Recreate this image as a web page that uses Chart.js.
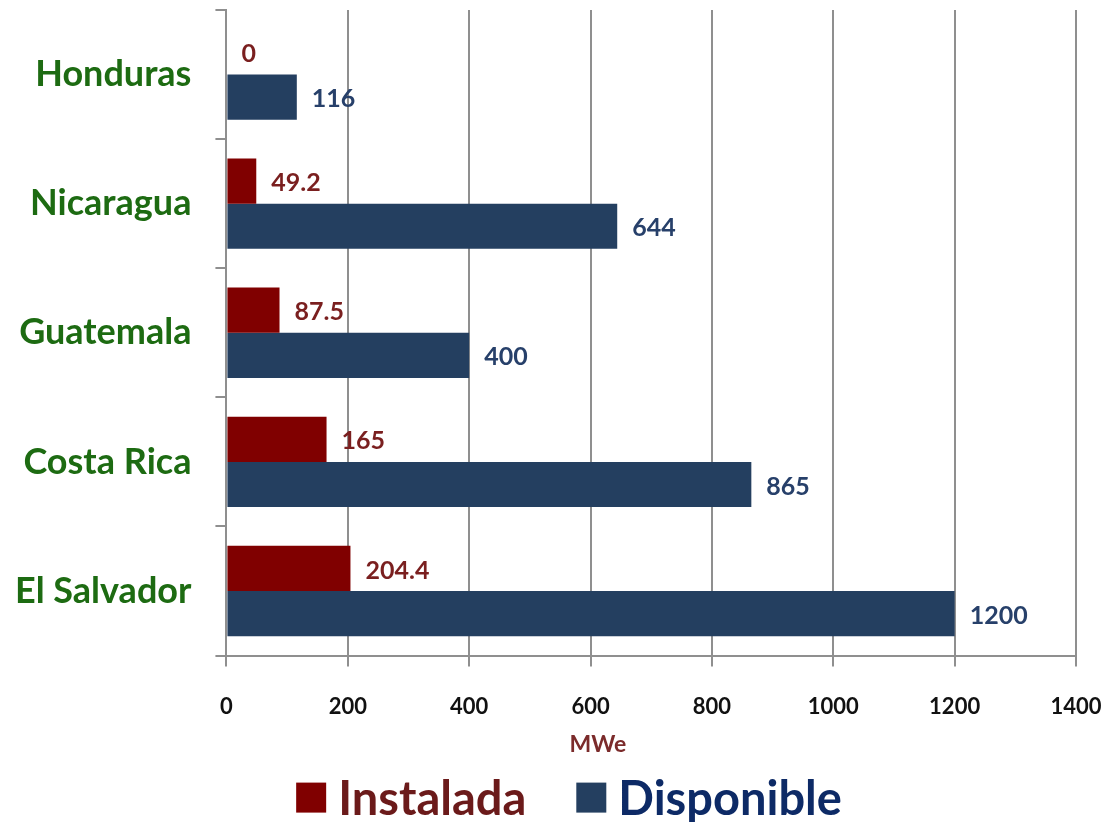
<!DOCTYPE html>
<html>
<head>
<meta charset="utf-8">
<script src="https://cdn.jsdelivr.net/npm/chart.js@4.4.1/dist/chart.umd.min.js"></script>
<style>
  html, body { margin: 0; padding: 0; background: #ffffff; }
  #wrap { width: 1106px; height: 822px; position: relative; }
</style>
</head>
<body>
<div id="wrap"><canvas id="geo-chart"></canvas></div>
<script>
// capacidad geotérmica por país (MWe)
const paises = ['Honduras', 'Nicaragua', 'Guatemala', 'Costa Rica', 'El Salvador'];
const instalada = [0, 49.2, 87.5, 165, 204.4];
const disponible = [116, 644, 400, 865, 1200];
const etiquetasInstalada = ['0', '49.2', '87.5', '165', '204.4'];
const etiquetasDisponible = ['116', '644', '400', '865', '1200'];

const rojo = '#800000';
const azul = '#243f60';
const FONT = 'Lato, "Open Sans", sans-serif';

// etiquetas de valor a la derecha de cada barra
const valorPlugin = {
    id: 'valores',
    afterDatasetsDraw(chart) {
        const ctx = chart.ctx;
        const textos = [etiquetasInstalada, etiquetasDisponible];
        const colores = ['#7a1f1f', '#27406a'];
        ctx.save();
        ctx.font = 'bold 25px ' + FONT;
        ctx.textAlign = 'left';
        ctx.textBaseline = 'middle';
        chart.data.datasets.forEach((ds, i) => {
            const meta = chart.getDatasetMeta(i);
            meta.data.forEach((bar, j) => {
                ctx.fillStyle = colores[i];
                ctx.fillText(textos[i][j], bar.x + 15, bar.y + 2);
            });
        });
        ctx.restore();
    }
};

// título del eje x y leyenda debajo del gráfico
const pieDePlugin = {
    id: 'pieDe',
    afterDraw(chart) {
        const ctx = chart.ctx;
        const area = chart.chartArea;
        ctx.save();
        ctx.textBaseline = 'middle';

        ctx.font = 'bold 23px ' + FONT;
        ctx.fillStyle = '#7b2b2b';
        ctx.textAlign = 'center';
        ctx.fillText('MWe', chart.width / 2 + 45, area.bottom + 89);

        const tonos = ['#6b1a1a', '#0d2a66'];
        const caja = 30, hueco = 12, sep = 50;
        ctx.font = 'bold 47px ' + FONT;
        const items = chart.data.datasets.map((ds, i) => ({
            texto: ds.label,
            color: ds.backgroundColor,
            tono: tonos[i],
            ancho: ctx.measureText(ds.label).width
        }));
        let total = items.reduce((s, it) => s + caja + hueco + it.ancho, 0) + sep * (items.length - 1);
        let x = chart.width / 2 + 16 - total / 2;
        const y = area.bottom + 142;
        ctx.textAlign = 'left';
        items.forEach((it) => {
            ctx.fillStyle = it.color;
            ctx.fillRect(x, y - caja / 2, caja, caja);
            ctx.fillStyle = it.tono;
            ctx.fillText(it.texto, x + caja + hueco, y + 2);
            x += caja + hueco + it.ancho + sep;
        });
        ctx.restore();
    }
};

const ctx = document.getElementById('geo-chart').getContext('2d');
const chart = new Chart(ctx, {
    type: 'bar',
    data: {
        labels: paises,
        datasets: [
            { label: 'Instalada', data: instalada, backgroundColor: rojo, borderWidth: 0 },
            { label: 'Disponible', data: disponible, backgroundColor: azul, borderWidth: 0 }
        ]
    },
    options: {
        indexAxis: 'y',
        responsive: true,
        maintainAspectRatio: false,
        animation: false,
        datasets: {
            bar: { categoryPercentage: 0.7, barPercentage: 1.0 }
        },
        layout: { padding: { top: 10, right: 0, left: -9, bottom: 75 } },
        scales: {
            x: {
                min: 0,
                max: 1400,
                ticks: {
                    stepSize: 200,
                    color: '#111111',
                    padding: 27,
                    font: { family: FONT, size: 22, weight: 'bold' },
                    callback: (v) => String(v)
                },
                grid: { color: '#8f8f8f', lineWidth: 2, tickLength: 11, drawTicks: true },
                border: { color: '#8f8f8f', width: 2 },
                afterFit(scale) {
                    scale.paddingRight = 30;
                    scale.paddingLeft = 0;
                }
            },
            y: {
                ticks: {
                    color: '#1d6b12',
                    padding: 24,
                    font: { family: FONT, size: 36, weight: 'bold' }
                },
                grid: { offset: true, drawOnChartArea: false, color: '#8f8f8f', lineWidth: 2, tickLength: 11 },
                border: { color: '#8f8f8f', width: 2 },
                // sin margen extra arriba/abajo por la altura de las etiquetas
                afterFit(scale) {
                    scale.paddingTop = 0;
                    scale.paddingBottom = 0;
                }
            }
        },
        plugins: {
            tooltip: { enabled: false },
            legend: { display: false }
        }
    },
    plugins: [valorPlugin, pieDePlugin]
});
</script>
</body>
</html>
